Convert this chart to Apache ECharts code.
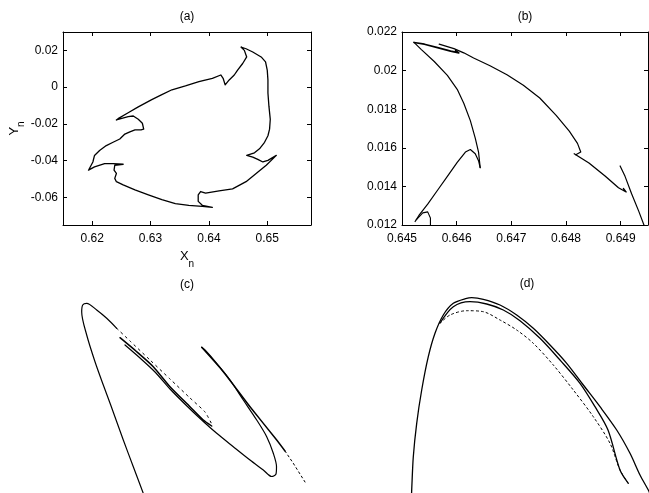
<!DOCTYPE html>
<html>
<head>
<meta charset="utf-8">
<script src="https://cdn.jsdelivr.net/npm/echarts@6/dist/echarts.min.js"></script>
<style>html,body{margin:0;padding:0;background:#fff}#c{width:649px;height:493px}</style>
</head>
<body>
<div id="c"></div>
<script>
// ---------- Panel (a): X_n vs Y_n ----------
const aXTicks = [0.62, 0.63, 0.64, 0.65];
const aYTicks = [-0.06, -0.04, -0.02, 0, 0.02];
const aLoop = [
 [0.62415,-0.01786],[0.62617,-0.01607],[0.62704,-0.01571],[0.62790,-0.0175],[0.62860,-0.01964],
 [0.62883,-0.02286],[0.62837,-0.02321],[0.62733,-0.02321],[0.62646,-0.02429],[0.62560,-0.02554],
 [0.62473,-0.02821],[0.62358,-0.03],[0.62242,-0.03179],[0.62127,-0.03446],[0.62040,-0.03714],
 [0.62012,-0.04071],[0.61937,-0.04518],[0.62040,-0.04339],[0.62213,-0.04161],[0.62358,-0.04161],
 [0.62531,-0.04196],[0.62387,-0.0425],[0.62375,-0.04518],[0.62415,-0.04696],[0.62387,-0.04964],
 [0.62415,-0.05143],[0.62531,-0.05321],[0.62733,-0.05589],[0.62963,-0.05857],[0.63194,-0.06125],
 [0.63425,-0.06339],[0.63656,-0.06429],[0.63887,-0.06482],[0.64060,-0.06536],[0.63887,-0.06429],
 [0.63817,-0.06214],[0.63817,-0.05857],[0.63858,-0.05679],[0.63944,-0.05768],[0.64175,-0.05643],
 [0.64406,-0.05536],[0.64637,-0.05143],[0.64810,-0.04696],[0.64983,-0.0425],[0.65156,-0.03714],
 [0.65012,-0.03982],[0.64925,-0.04071],[0.64838,-0.03929],[0.64752,-0.03804],[0.64648,-0.03714],
 [0.64665,-0.03625],[0.64781,-0.03571],[0.64867,-0.03357],[0.64954,-0.03],[0.65012,-0.02643],
 [0.65040,-0.02286],[0.65052,-0.0175],[0.65029,-0.01036],[0.65012,-0.00321],[0.65012,0.00393],
 [0.65,0.00929],[0.64971,0.01375],[0.64896,0.01643],[0.64752,0.01911],[0.64637,0.02089],
 [0.6455,0.02179],[0.64608,0.02],[0.64648,0.01643],[0.64579,0.01286],[0.64492,0.00929],
 [0.64435,0.00661],[0.64348,0.00393],[0.64279,0.00125],[0.64244,0.00482],[0.64204,0.00661],
 [0.64060,0.00482],[0.63829,0.00304],[0.63598,0.00071],[0.63367,-0.00143],[0.63194,-0.00411],
 [0.63021,-0.00679],[0.62790,-0.01071],[0.62617,-0.01393],[0.62444,-0.01714],[0.62415,-0.01786]
];

// ---------- Panel (b): zoom of the top spike ----------
const bXTicks = [0.645, 0.646, 0.647, 0.648, 0.649];
const bYTicks = [0.012, 0.014, 0.016, 0.018, 0.02, 0.022];
const bTop = [[0.64522,0.02146],[0.64541,0.02137],[0.64565,0.02119],[0.64589,0.02101],[0.64604,0.02092],[0.64598,0.02104]];
const bLong = [[0.64568,0.02137],[0.64595,0.02114],[0.64613,0.02092],[0.64631,0.02065],[0.64661,0.02025],
 [0.64692,0.01978],[0.64722,0.01924],[0.64752,0.01858],[0.64782,0.01768],[0.64806,0.01686],
 [0.64821,0.01623],[0.64827,0.01578],[0.64818,0.01564]];
const bLower = [[0.64815,0.01569],[0.64842,0.01521],[0.64872,0.01452],[0.64896,0.01393],[0.6491,0.01371],[0.64905,0.01389]];
const bSteep = [[0.64899,0.01506],[0.64908,0.01452],[0.6492,0.01362],[0.64933,0.01272],[0.64945,0.01182]];
const bDown = [[0.64522,0.02146],[0.64535,0.0211],[0.64559,0.02047],[0.64583,0.01975],[0.64601,0.01903],
 [0.64613,0.01831],[0.64625,0.01741],[0.64634,0.0165],[0.6464,0.01578],[0.64643,0.01497]];
const bArc = [[0.64524,0.01218],[0.64532,0.01254],[0.64547,0.01308],[0.64565,0.0138],[0.64583,0.01452],
 [0.64601,0.01524],[0.64616,0.01578],[0.64625,0.01591],[0.64634,0.01569],[0.6464,0.01533],[0.64643,0.01497]];
const bHook = [[0.64526,0.01227],[0.64538,0.01263],[0.64547,0.01268],[0.64552,0.01236],[0.64552,0.01146]];

// ---------- Panel (c): no axes (arbitrary units) ----------
const cTail = [[83.5,-1],[82.7,1.3],[73.3,26.3],[63.3,53],[50.7,88],[43.3,108],[35,131.3],[26.7,158],
 [21.7,181],[22.7,188],[26.7,189.7],[36.7,183],[46.7,174.7],[56.7,164.7]];
const cUpperDotted = [[56.7,164.7],[70,152],[90,133],[110,114],[130,95],[145,81],[151.7,69]];
const cInner = [[60,155.3],[76.7,141.3],[93.3,126.3],[110,106.3],[130,86.3],[143.3,73],[151.7,67]];
const cLoop = [[65,148],[80,135],[95,121],[110,104],[130,84],[145,70],[156.7,59.7],[173.3,46.3],[190,33],
 [203.3,23],[211.7,16.5],[216,19],[216.5,26.3],[213.3,39.7],[206.7,56.3],[196.7,73],[183.3,93],[170,113],
 [156.7,129.7],[145,143],[141.7,145.7]];
const cRight = [[141.7,145.7],[163.3,121.3],[190,86.3],[216.7,53],[225,42]];
const cRightDotted = [[225,42],[233.3,29.7],[245,11]];

// ---------- Panel (d): no axes (arbitrary units) ----------
const dOuter = [[11.5,-2],[11.7,3],[13.3,36.3],[16.7,69.7],[21.7,103],[28.3,136.3],[35,159.7],[43.3,178],
 [53.3,189.7],[66.7,194.7],[71.7,195.3],[83.3,193.7],[100,188],[116.7,178],[133.3,164.7],[150,148],
 [166.7,129.7],[183.3,108],[200,86.3],[216.7,63],[230,39.7],[240,18],[248.3,3],[250,-1]];
const dMiddle = [[40,170],[53.3,186.3],[70,191.3],[86.7,189],[103.3,183],[120,172.3],[140,154.7],[160,133],
 [180,109.7],[195,86.3],[208,63],[220,23],[228.3,9.7]];
const dInnerDotted = [[40,169.7],[50,178],[66.7,182.3],[83.3,181.3],[100,173],[116.7,163],[133.3,149.7],
 [153.3,128],[173.3,103],[193.3,76.3],[210,49.7],[220,23],[228,10]];

// ---------- build chart ----------
const FONT = '"Liberation Sans", Arial, Helvetica, sans-serif';
const fmt = v => String(parseFloat((+v).toFixed(4)));
const lineCol = '#000';
const LBL = 12;

function boxAxes(gi, xmin, xmax, xt, ymin, ymax, yt, xname, yname) {
  const common = {
    gridIndex: gi, type: 'value', splitLine: {show: false},
    axisLine: {show: true, onZero: false, lineStyle: {color: lineCol, width: 1}},
    axisTick: {show: true, inside: true, length: 4, lineStyle: {color: lineCol}}
  };
  const rich = {m: {fontSize: 13, fontFamily: FONT, verticalAlign: 'top', lineHeight: 19, color: '#000'},
                s: {fontSize: 10, fontFamily: FONT, verticalAlign: 'bottom', lineHeight: 19, color: '#000'}};
  const xs = [
    Object.assign({}, common, {min: xmin, max: xmax, position: 'bottom',
      axisTick: Object.assign({}, common.axisTick, {customValues: xt}),
      axisLabel: {customValues: xt, formatter: fmt, color: '#000', fontSize: LBL, fontFamily: FONT, margin: 8},
      name: xname || '', nameLocation: 'middle', nameGap: 25,
      nameTextStyle: {color: '#000', fontFamily: FONT, rich: rich}
    }),
    Object.assign({}, common, {min: xmin, max: xmax, position: 'top',
      axisTick: Object.assign({}, common.axisTick, {customValues: xt}),
      axisLabel: {show: false}})
  ];
  const ys = [
    Object.assign({}, common, {min: ymin, max: ymax, position: 'left',
      axisTick: Object.assign({}, common.axisTick, {customValues: yt}),
      axisLabel: {customValues: yt, formatter: fmt, color: '#000', fontSize: LBL, fontFamily: FONT, margin: 5},
      name: yname || '', nameLocation: 'middle', nameGap: 35, nameRotate: 90,
      nameTextStyle: {color: '#000', fontFamily: FONT, rich: rich}
    }),
    Object.assign({}, common, {min: ymin, max: ymax, position: 'right',
      axisTick: Object.assign({}, common.axisTick, {customValues: yt}),
      axisLabel: {show: false}})
  ];
  return {xs, ys};
}

const A = boxAxes(0, 0.615, 0.6575, aXTicks, -0.075, 0.03, aYTicks, '{m|X}{s|n}', '{m|Y}{s|n}');
const B = boxAxes(1, 0.645, 0.6495, bXTicks, 0.012, 0.022, bYTicks, '', '');
const hiddenX = (gi, max) => ({gridIndex: gi, type: 'value', min: 0, max: max, show: false});
const hiddenY = (gi, max) => ({gridIndex: gi, type: 'value', min: 0, max: max, show: false});

// axis indices: a -> x0,x1 / y0,y1 ; b -> x2,x3 / y2,y3 ; c -> x4 / y4 ; d -> x5 / y5
const xAxes = [...A.xs, ...B.xs, hiddenX(2, 260), hiddenX(3, 249)];
const yAxes = [...A.ys, ...B.ys, hiddenY(2, 198), hiddenY(3, 198)];

function ser(data, xi, yi, opts) {
  opts = opts || {};
  return {
    type: 'line', data: data, xAxisIndex: xi, yAxisIndex: yi, symbol: 'none', showSymbol: false,
    smooth: opts.smooth || 0, clip: true, silent: true,
    lineStyle: {color: lineCol, width: opts.width || 1.2, type: opts.type || 'solid', cap: 'round', join: 'round'}
  };
}

const series = [
  ser(aLoop, 0, 0, {width: 1.3}),
  ser(bTop, 2, 2, {width: 1.6}),
  ser(bLong, 2, 2, {width: 1.2}),
  ser(bLower, 2, 2, {width: 1.3}),
  ser(bSteep, 2, 2, {width: 1.2}),
  ser(bDown, 2, 2, {width: 1.2}),
  ser(bArc, 2, 2, {width: 1.2}),
  ser(bHook, 2, 2, {width: 1.1}),
  ser(cTail, 4, 4, {smooth: 0.3, width: 1.2}),
  ser(cUpperDotted, 4, 4, {smooth: 0.2, width: 1, type: [2, 4]}),
  ser(cInner, 4, 4, {smooth: 0.2, width: 1.5}),
  ser(cLoop, 4, 4, {smooth: 0.3, width: 1.2}),
  ser(cRight, 4, 4, {smooth: 0.2, width: 1.5}),
  ser(cRightDotted, 4, 4, {width: 1, type: [2, 3]}),
  ser(dOuter, 5, 5, {smooth: 0.3, width: 1.3}),
  ser(dMiddle, 5, 5, {smooth: 0.3, width: 1.3}),
  ser(dInnerDotted, 5, 5, {smooth: 0.3, width: 1, type: [2, 3]})
];

const chart = echarts.init(document.getElementById('c'), null, {renderer: 'canvas'});
const TT = {textAlign: 'center', textVerticalAlign: 'middle', fontSize: 12, fontFamily: FONT, fill: '#000'};
chart.setOption({
  animation: false,
  backgroundColor: '#fff',
  grid: [
    {left: 63, top: 32, width: 248, height: 193},
    {left: 402, top: 32, width: 246, height: 193},
    {left: 60, top: 295, width: 260, height: 198},
    {left: 400, top: 295, width: 249, height: 198}
  ],
  xAxis: xAxes,
  yAxis: yAxes,
  series: series,
  graphic: [
    {type: 'text', x: 187, y: 17, style: Object.assign({text: '(a)'}, TT)},
    {type: 'text', x: 525, y: 17, style: Object.assign({text: '(b)'}, TT)},
    {type: 'text', x: 187, y: 285, style: Object.assign({text: '(c)'}, TT)},
    {type: 'text', x: 527, y: 284, style: Object.assign({text: '(d)'}, TT)}
  ]
});
</script>
</body>
</html>
